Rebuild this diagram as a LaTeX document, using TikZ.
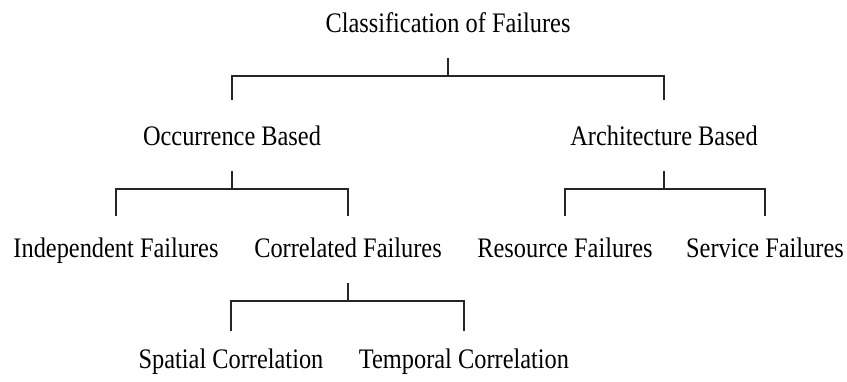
\documentclass[tikz,border=0pt]{standalone}
\usepackage{fontspec}
\setmainfont{Liberation Serif}
\usetikzlibrary{positioning}
\newcommand{\tallish}[1]{\scalebox{1}[1.16]{#1}}

\begin{document}
\begin{tikzpicture}[x=0.03cm, y=-0.03cm,
      cls/.style={anchor=base, inner sep=0pt,
                  font=\fontsize{20.8pt}{24pt}\selectfont},
      fork/.style={line width=1.2pt, black!85}
    ]
      \useasboundingbox (0,0) rectangle (847,381);
      \node[cls] (root) at (448,32) {\tallish{Classification of Failures}};
      \node[cls] (occ) at (232,145) {\tallish{Occurrence Based}};
      \node[cls] (arch) at (664,145) {\tallish{Architecture Based}};
      \node[cls] (indep) at (116,257) {\tallish{Independent Failures}};
      \node[cls] (corr) at (348,257) {\tallish{Correlated Failures}};
      \node[cls] (res) at (565,257) {\tallish{Resource Failures}};
      \node[cls] (serv) at (765,257) {\tallish{Service Failures}};
      \node[cls] (spat) at (231,368) {\tallish{Spatial Correlation}};
      \node[cls] (temp) at (464,368) {\tallish{Temporal Correlation}};
      % forks from parent to children
      \foreach \p/\c/\g in {root/occ/45, root/arch/45, occ/indep/41, occ/corr/41,
                            arch/res/41, arch/serv/41, corr/spat/37, corr/temp/37}
        \draw[fork] ([shift={(0,26)}]\p.base) -- ++(0,18) -| ([shift={(0,-\g)}]\c.base);
    \end{tikzpicture}
\end{document}
